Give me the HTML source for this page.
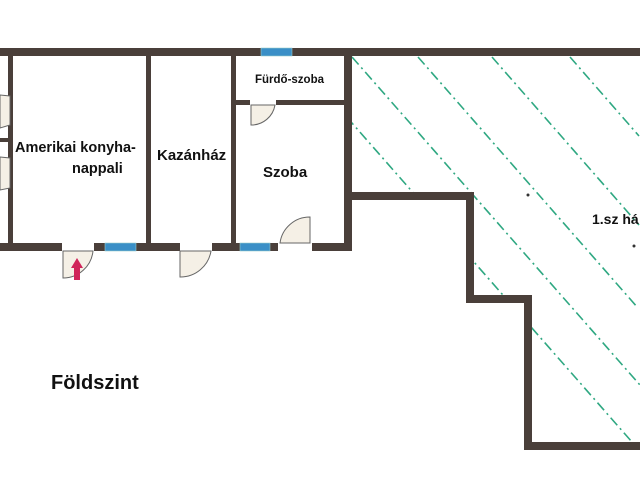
<!DOCTYPE html>
<html><head><meta charset="utf-8"><style>
html,body{margin:0;padding:0;background:#fff;width:640px;height:480px;overflow:hidden;}
svg{display:block;overflow:hidden;}
text{font-family:"Liberation Sans",sans-serif;font-weight:bold;fill:#111;}
</style></head><body>
<svg width="640" height="480" viewBox="0 0 640 480" xmlns="http://www.w3.org/2000/svg">
<defs>
<clipPath id="c"><polygon points="352,56 640,56 640,442 532,442 532,295 474,295 474,192 352,192"/></clipPath>
</defs>
<g clip-path="url(#c)" stroke="#2fa882" stroke-width="1.6" stroke-dasharray="10,4,2,4" fill="none">
<line x1="294" y1="57" x2="639" y2="450"/>
<line x1="352" y1="57" x2="697" y2="450"/>
<line x1="418" y1="57" x2="638" y2="308"/>
<line x1="492" y1="57" x2="639" y2="225"/>
<line x1="570" y1="57" x2="639" y2="136"/>
</g>
<g fill="#4a3f3a">
<rect x="0" y="48" width="640" height="8"/>
<rect x="0" y="243" width="352" height="8"/>
<rect x="8" y="48" width="5" height="200"/>
<rect x="0" y="138" width="9" height="4"/>
<rect x="146" y="48" width="5" height="200"/>
<rect x="231" y="48" width="5" height="200"/>
<rect x="232" y="100" width="114" height="5"/>
<rect x="344" y="48" width="8" height="203"/>
<rect x="344" y="192" width="130" height="8"/>
<rect x="466" y="192" width="8" height="111"/>
<rect x="466" y="295" width="66" height="8"/>
<rect x="524" y="295" width="8" height="155"/>
<rect x="524" y="442" width="116" height="8"/>
</g>
<g fill="#fff">
<rect x="62" y="243" width="32" height="8"/>
<rect x="180" y="243" width="32" height="8"/>
<rect x="278" y="243" width="34" height="8"/>
<rect x="250" y="100" width="26" height="5"/>
<rect x="0" y="95" width="8" height="33"/>
<rect x="0" y="157" width="8" height="33"/>
</g>
<g fill="#3a8fc7" stroke="#9cc" stroke-width="0.6">
<rect x="261" y="48" width="31" height="8"/>
<rect x="105" y="243" width="31" height="8"/>
<rect x="240" y="243" width="30" height="8"/>
</g>
<g fill="#f5f0e6" stroke="#666" stroke-width="1">
<path d="M63,251 L63,278 A30,30 0 0 0 93,251 Z"/>
<path d="M180,251 L180,277 A31,31 0 0 0 211,251 Z"/>
<path d="M310,243 L310,217 A30,30 0 0 0 280,243 Z"/>
<path d="M251,105 L251,125 A24,24 0 0 0 275,105 Z"/>
<path d="M0,95 L10,96 L10,125 L0,128 Z"/>
<path d="M0,157 L10,158 L10,188 L0,190 Z"/>
</g>
<path d="M77,258 L71,268 L74,268 L74,280 L80,280 L80,268 L83,268 Z" fill="#d0245a"/>
<circle cx="528" cy="195" r="1.5" fill="#333"/>
<circle cx="634" cy="246" r="1.5" fill="#333"/>
<text x="15" y="152" font-size="14.5">Amerikai konyha-</text>
<text x="72" y="173" font-size="14.5">nappali</text>
<text x="157" y="160" font-size="15">Kazánház</text>
<text x="263" y="177" font-size="15">Szoba</text>
<text x="255" y="83" font-size="11.5">Fürdő-szoba</text>
<text x="592" y="224" font-size="14">1.sz há</text>
<text x="51" y="389" font-size="20">Földszint</text>
</svg>
</body></html>
